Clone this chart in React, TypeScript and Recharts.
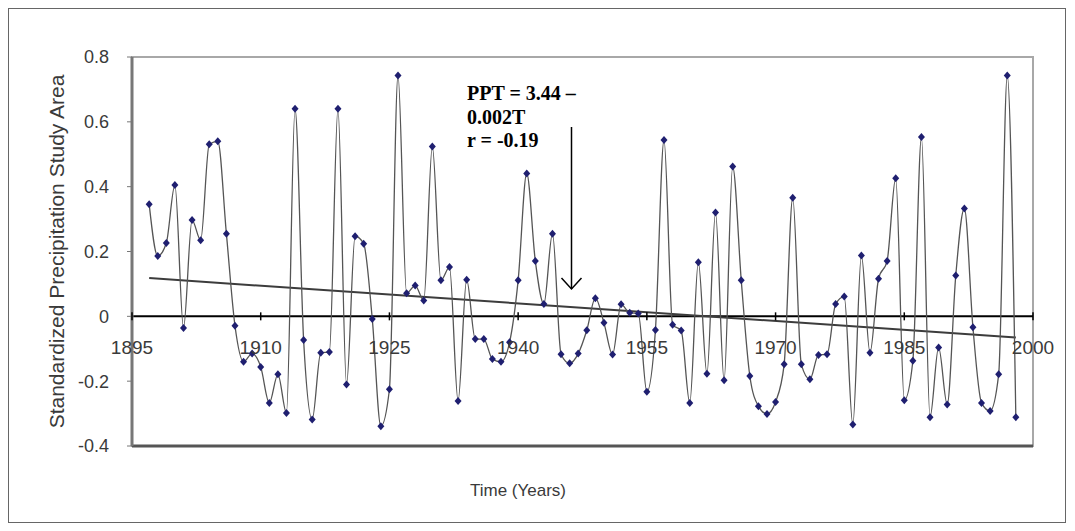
import { LineChart, Line, XAxis, YAxis, ReferenceLine, ReferenceArea } from 'recharts';

// yearly standardized precipitation
const years = [
  1897, 1898, 1899, 1900, 1901, 1902, 1903, 1904, 1905, 1906,
  1907, 1908, 1909, 1910, 1911, 1912, 1913, 1914, 1915, 1916,
  1917, 1918, 1919, 1920, 1921, 1922, 1923, 1924, 1925, 1926,
  1927, 1928, 1929, 1930, 1931, 1932, 1933, 1934, 1935, 1936,
  1937, 1938, 1939, 1940, 1941, 1942, 1943, 1944, 1945, 1946,
  1947, 1948, 1949, 1950, 1951, 1952, 1953, 1954, 1955, 1956,
  1957, 1958, 1959, 1960, 1961, 1962, 1963, 1964, 1965, 1966,
  1967, 1968, 1969, 1970, 1971, 1972, 1973, 1974, 1975, 1976,
  1977, 1978, 1979, 1980, 1981, 1982, 1983, 1984, 1985, 1986,
  1987, 1988, 1989, 1990, 1991, 1992, 1993, 1994, 1995, 1996,
  1997, 1998,
];
const precip = [
  0.346, 0.186, 0.226, 0.405, -0.036, 0.297, 0.235, 0.531, 0.54, 0.255,
  -0.029, -0.14, -0.115, -0.156, -0.267, -0.179, -0.298, 0.64, -0.073, -0.318,
  -0.112, -0.11, 0.64, -0.21, 0.247, 0.224, -0.008, -0.339, -0.225, 0.743,
  0.071, 0.095, 0.049, 0.524, 0.111, 0.152, -0.261, 0.113, -0.07, -0.07,
  -0.132, -0.14, -0.08, 0.111, 0.441, 0.171, 0.038, 0.255, -0.117, -0.145,
  -0.115, -0.043, 0.056, -0.02, -0.118, 0.037, 0.011, 0.009, -0.233, -0.042,
  0.544, -0.026, -0.044, -0.267, 0.167, -0.177, 0.32, -0.197, 0.462, 0.111,
  -0.184, -0.277, -0.301, -0.264, -0.148, 0.366, -0.148, -0.194, -0.119, -0.117,
  0.038, 0.061, -0.334, 0.188, -0.112, 0.116, 0.171, 0.426, -0.259, -0.137,
  0.553, -0.311, -0.096, -0.272, 0.126, 0.333, -0.034, -0.267, -0.292, -0.179,
  0.743, -0.311,
];

// linear trend end points
const trendYears = [1897, 1998];
const trendValues = [0.118, -0.065];

const xTicks = [1895, 1910, 1925, 1940, 1955, 1970, 1985, 2000];
const yTicks = [-0.4, -0.2, 0, 0.2, 0.4, 0.6, 0.8];
const annotation = ['PPT = 3.44 –', '0.002T', 'r = -0.19'];

const W = 1056;
const H = 513;
const TOP = 48;
const X_AXIS_H = 76;
const Y_MIN = -0.4;
const Y_MAX = 0.8;
const PLOT_H = H - TOP - X_AXIS_H;
const ZERO_Y = TOP + (PLOT_H * Y_MAX) / (Y_MAX - Y_MIN);
const SANS = 'Liberation Sans, Arial, sans-serif';

const series = years.map((year, i) => ({ year, v: precip[i] }));
const trend = trendYears.map((year, i) => ({ year, v: trendValues[i] }));

const YearTick = (props: any) => {
  const { x, payload } = props;
  return (
    <g>
      <line x1={x} x2={x} y1={ZERO_Y - 4} y2={ZERO_Y + 4} stroke="#000" strokeWidth={1.5} />
      <text x={x} y={ZERO_Y + 38} textAnchor="middle" fill="#3a3a3a" fontSize={19} fontFamily={SANS}>
        {payload.value}
      </text>
    </g>
  );
};

const Diamond = (props: any) => {
  const { cx, cy, index } = props;
  if (cx == null || cy == null) return <g key={index} />;
  return (
    <path
      key={index}
      d={`M${cx},${cy - 4}L${cx + 3.5},${cy}L${cx},${cy + 4}L${cx - 3.5},${cy}Z`}
      fill="#1f1f70"
    />
  );
};

export default function App() {
  return (
    <div
      style={{
        position: 'relative',
        width: W,
        height: H,
        border: '1px solid #666',
        background: '#fff',
      }}
    >
      <LineChart width={W} height={H} margin={{ top: TOP, right: 32, left: 0, bottom: 0 }}>
        <ReferenceArea
          x1={1895}
          x2={2000}
          y1={Y_MIN}
          y2={Y_MAX}
          fill="none"
          stroke="#a8a8a8"
          strokeWidth={2}
          ifOverflow="visible"
        />
        <XAxis
          type="number"
          dataKey="year"
          domain={[1895, 2000]}
          ticks={xTicks}
          allowDataOverflow
          height={X_AXIS_H}
          axisLine={{ stroke: '#555', strokeWidth: 3 }}
          tickLine={false}
          tick={<YearTick />}
          interval={0}
        />
        <YAxis
          type="number"
          domain={[Y_MIN, Y_MAX]}
          ticks={yTicks}
          width={123}
          axisLine={{ stroke: '#777', strokeWidth: 3 }}
          tickLine={{ stroke: '#777' }}
          tickSize={5}
          tickMargin={18}
          tick={{ fill: '#3a3a3a', fontSize: 18, fontFamily: SANS }}
          tickFormatter={(v: number) => String(v)}
          label={{
            value: 'Standardized Precipitation Study Area',
            angle: -90,
            position: 'insideLeft',
            offset: 48,
            style: { textAnchor: 'middle', fill: '#3a3a3a', fontSize: 21, fontFamily: SANS },
          }}
        />
        <ReferenceLine y={0} stroke="#000" strokeWidth={2} />
        <Line
          data={trend}
          dataKey="v"
          type="linear"
          stroke="#3c3c3c"
          strokeWidth={2}
          dot={false}
          isAnimationActive={false}
        />
        <Line
          data={series}
          dataKey="v"
          type="monotone"
          stroke="#555"
          strokeWidth={1.3}
          dot={Diamond}
          isAnimationActive={false}
        />
      </LineChart>
      <svg
        width={W}
        height={H}
        style={{ position: 'absolute', left: 0, top: 0, pointerEvents: 'none' }}
      >
        {annotation.map((line, i) => (
          <text
            key={line}
            x={458}
            y={91 + i * 23.5}
            fontFamily="Liberation Serif, Times New Roman, serif"
            fontWeight="bold"
            fontSize={20}
            fill="#000"
          >
            {line}
          </text>
        ))}
        <line x1={562.5} x2={562.5} y1={118} y2={280} stroke="#000" strokeWidth={1.5} />
        <polyline points="552.5,269 562.5,280 572.5,269" fill="none" stroke="#000" strokeWidth={1.5} />
        <text x={509} y={487} textAnchor="middle" fill="#3a3a3a" fontSize={17} fontFamily={SANS}>
          Time (Years)
        </text>
      </svg>
    </div>
  );
}
